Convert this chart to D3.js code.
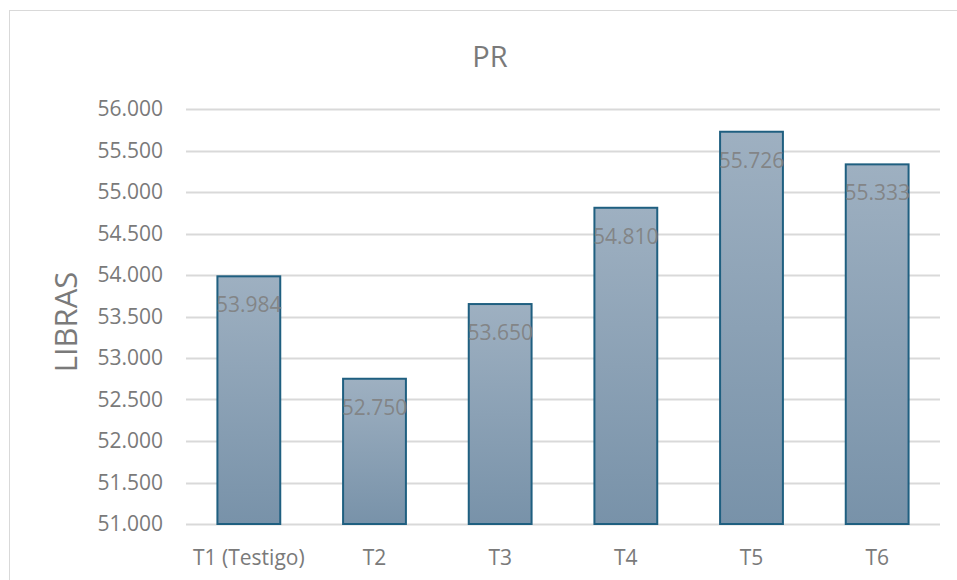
<!DOCTYPE html>
<html><head><meta charset="utf-8">
<script src="https://cdn.jsdelivr.net/npm/d3@7"></script>
<style>body{margin:0;background:#fff;} svg{display:block;font-family:"Open Sans",sans-serif;}</style>
</head><body><svg id="c" width="957" height="580"></svg>
<script>
const categories = ["T1 (Testigo)", "T2", "T3", "T4", "T5", "T6"];
const values = [53.984, 52.750, 53.650, 54.810, 55.726, 55.333];
const yTicks = [51, 51.5, 52, 52.5, 53, 53.5, 54, 54.5, 55, 55.5, 56];
const chartTitle = "PR";
const yTitle = "LIBRAS";

const svg = d3.select("#c");
const fmtLabel = v => v.toFixed(3);

const pLeft = 186, pRight = 940, pTop = 109, pBottom = 524;
const x = d3.scaleBand().domain(categories).range([pLeft, pRight]).paddingInner(0.5).paddingOuter(0.25);
const y = d3.scaleLinear().domain([51, 56]).range([pBottom, pTop]);

// chart border
svg.append("rect").attr("x", 9.5).attr("y", 10.5).attr("width", 960).attr("height", 600)
  .attr("fill", "none").attr("stroke", "#d9d9d9").attr("stroke-width", 1);

const defs = svg.append("defs");
const g = defs.append("linearGradient").attr("id", "bg").attr("x1", 0).attr("y1", 0).attr("x2", 0).attr("y2", 1);
g.append("stop").attr("offset", "0%").attr("stop-color", "#9eb0c1");
g.append("stop").attr("offset", "100%").attr("stop-color", "#7892a9");

// gridlines
svg.append("g").selectAll("line").data(yTicks).join("line")
  .attr("x1", pLeft).attr("x2", pRight)
  .attr("y1", d => Math.round(y(d)) + 0.5).attr("y2", d => Math.round(y(d)) + 0.5)
  .attr("stroke", "#d9d9d9").attr("stroke-width", 2);

// y axis labels
const yAxis = d3.axisLeft(y).tickValues(yTicks).tickFormat(d => d.toFixed(3)).tickSize(0).tickPadding(0);
const ya = svg.append("g").attr("transform", `translate(163,0)`).call(yAxis);
ya.select(".domain").remove();
ya.selectAll("text").attr("font-size", 21).attr("fill", "#7a7a7a").attr("font-family", "Open Sans");

// bars
svg.append("g").selectAll("rect").data(values).join("rect")
  .attr("x", (d, i) => x(categories[i]))
  .attr("y", d => y(d))
  .attr("width", x.bandwidth())
  .attr("height", d => pBottom - y(d))
  .attr("fill", "url(#bg)")
  .attr("stroke", "#1f5f80").attr("stroke-width", 2);

// value labels
svg.append("g").selectAll("text").data(values).join("text")
  .attr("x", (d, i) => x(categories[i]) + x.bandwidth() / 2)
  .attr("y", d => y(d) + 36)
  .attr("text-anchor", "middle").attr("font-size", 21).attr("fill", "#808080").attr("fill-opacity", 0.9)
  .text(d => fmtLabel(d));

// x axis
const xAxis = d3.axisBottom(x).tickSize(0).tickPadding(0);
const xa = svg.append("g").attr("transform", `translate(0,${pBottom})`).call(xAxis);
xa.select(".domain").remove();
xa.selectAll("text").attr("font-size", 21).attr("fill", "#7a7a7a").attr("dy", 0).attr("y", 41).attr("font-family", "Open Sans");

// title
svg.append("text").attr("x", 490).attr("y", 67).attr("text-anchor", "middle")
  .attr("font-size", 29).attr("fill", "#7a7a7a").text(chartTitle);

// y title
svg.append("text").attr("transform", "translate(77,322) rotate(-90)").attr("text-anchor", "middle")
  .attr("font-size", 31).attr("fill", "#7a7a7a").text(yTitle);
</script></body></html>
